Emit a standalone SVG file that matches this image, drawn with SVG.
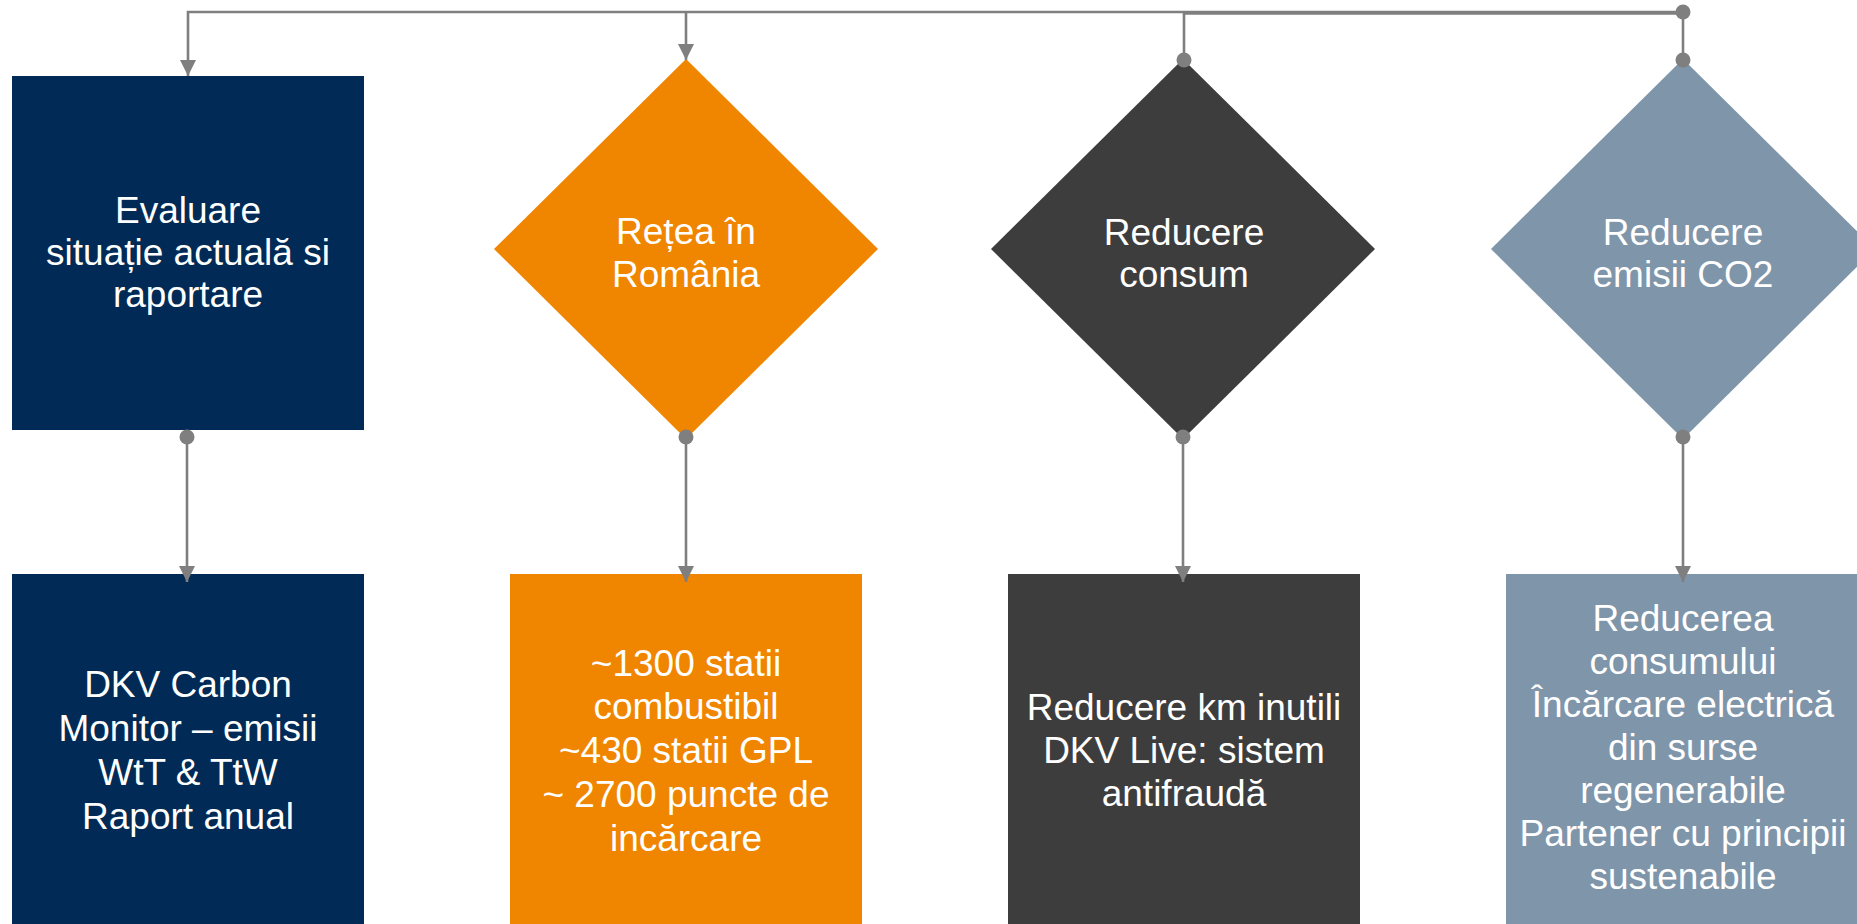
<svg xmlns="http://www.w3.org/2000/svg" width="1857" height="924" viewBox="0 0 1857 924">
<style>
.t{font-family:"Liberation Sans",Arial,sans-serif;font-size:37px;fill:#ffffff;text-anchor:middle}
.c{fill:none;stroke:#7f7f7f;stroke-width:2.6}
.navy{fill:#012b56}
.orange{fill:#f08500}
.dark{fill:#3d3d3d}
.slate{fill:#7f95aa}
</style>
<defs>
<marker id="arrow" markerUnits="userSpaceOnUse" markerWidth="16" markerHeight="16" refX="16" refY="8" orient="auto">
<path d="M0,0 L16,8 L0,16 Z" fill="#7f7f7f"/>
</marker>
<marker id="dot" markerUnits="userSpaceOnUse" markerWidth="16" markerHeight="16" refX="8" refY="8" orient="auto">
<circle cx="8" cy="8" r="7.5" fill="#7f7f7f"/>
</marker>
</defs>
<rect width="1857" height="924" fill="#ffffff"/>

<g id="n1">
<rect class="navy" x="12" y="76" width="352" height="354"/>
<text class="t" x="188" y="223">Evaluare</text>
<text class="t" x="188" y="265">situație actuală si</text>
<text class="t" x="188" y="307">raportare</text>
</g>
<g id="n2">
<polygon class="orange" points="686,59 878,249 686,439 494,249"/>
<text class="t" x="686" y="244">Rețea în</text>
<text class="t" x="686" y="287">România</text>
</g>
<g id="n3">
<polygon class="dark" points="1183,59 1375,249 1183,439 991,249"/>
<text class="t" x="1184" y="245">Reducere</text>
<text class="t" x="1184" y="287">consum</text>
</g>
<g id="n4">
<polygon class="slate" points="1683,59 1875,249 1683,439 1491,249"/>
<text class="t" x="1683" y="245">Reducere</text>
<text class="t" x="1683" y="287">emisii CO2</text>
</g>
<g id="n5">
<rect class="navy" x="12" y="574" width="352" height="360"/>
<text class="t" x="188" y="697">DKV Carbon</text>
<text class="t" x="188" y="741">Monitor – emisii</text>
<text class="t" x="188" y="785">WtT &amp; TtW</text>
<text class="t" x="188" y="829">Raport anual</text>
</g>
<g id="n6">
<rect class="orange" x="510" y="574" width="352" height="360"/>
<text class="t" x="686" y="676">~1300 statii</text>
<text class="t" x="686" y="719">combustibil</text>
<text class="t" x="686" y="763">~430 statii GPL</text>
<text class="t" x="686" y="807">~ 2700 puncte de</text>
<text class="t" x="686" y="851">incărcare</text>
</g>
<g id="n7">
<rect class="dark" x="1008" y="574" width="352" height="360"/>
<text class="t" x="1184" y="720">Reducere km inutili</text>
<text class="t" x="1184" y="763">DKV Live: sistem</text>
<text class="t" x="1184" y="806">antifraudă</text>
</g>
<g id="n8">
<rect class="slate" x="1506" y="574" width="360" height="360"/>
<text class="t" x="1683" y="631">Reducerea</text>
<text class="t" x="1683" y="674">consumului</text>
<text class="t" x="1683" y="717">Încărcare electrică</text>
<text class="t" x="1683" y="760">din surse</text>
<text class="t" x="1683" y="803">regenerabile</text>
<text class="t" x="1683" y="846">Partener cu principii</text>
<text class="t" x="1683" y="889">sustenabile</text>
</g>

<g id="connectors">
<path class="c" d="M1683,12 H188 V76" marker-end="url(#arrow)"/>
<path class="c" d="M686,12 V60" marker-end="url(#arrow)"/>
<path class="c" d="M1683,13.5 H1184 V60" marker-end="url(#dot)"/>
<path class="c" d="M1683,12 V60" marker-start="url(#dot)" marker-end="url(#dot)"/>
<path class="c" d="M187,437 V582" marker-start="url(#dot)" marker-end="url(#arrow)"/>
<path class="c" d="M686,437 V582" marker-start="url(#dot)" marker-end="url(#arrow)"/>
<path class="c" d="M1183,437 V582" marker-start="url(#dot)" marker-end="url(#arrow)"/>
<path class="c" d="M1683,437 V582" marker-start="url(#dot)" marker-end="url(#arrow)"/>
</g>
</svg>
